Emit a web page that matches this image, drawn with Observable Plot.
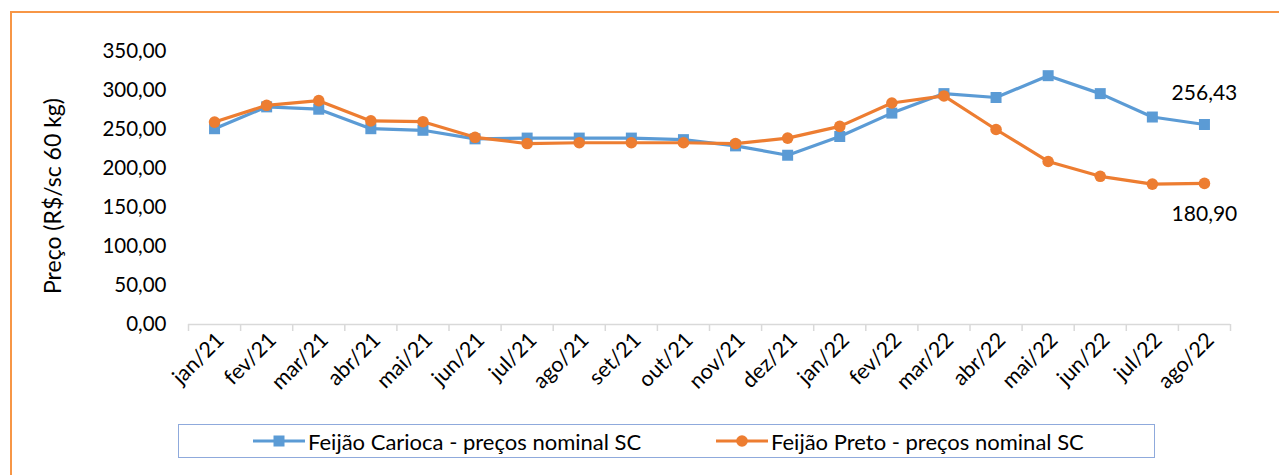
<!DOCTYPE html>
<html><head><meta charset="utf-8">
<script src="https://cdn.jsdelivr.net/npm/d3@7"></script>
<script src="https://cdn.jsdelivr.net/npm/@observablehq/plot@0.6"></script>
<style>
body{margin:0;background:#fff;font-family:Lato,sans-serif;overflow:hidden;}
#frame{position:absolute;left:10px;top:11px;width:1400px;height:600px;border:2px solid #F79646;box-sizing:border-box;}
#chart{position:absolute;left:0;top:0;}
#legend{position:absolute;left:178px;top:424px;width:977px;height:34px;border:1px solid #8FAADC;box-sizing:border-box;background:#fff;}
.item{position:absolute;top:0;height:32px;display:flex;align-items:center;font-size:22px;color:#000;white-space:nowrap;}
.item svg{margin-right:3px;}
</style>
</head><body>
<div id="frame"></div>
<div id="chart"></div>
<div id="legend"></div>
<script>
const months = ["jan/21","fev/21","mar/21","abr/21","mai/21","jun/21","jul/21","ago/21","set/21","out/21","nov/21","dez/21","jan/22","fev/22","mar/22","abr/22","mai/22","jun/22","jul/22","ago/22"];
const carioca = [251, 279, 276, 251, 249, 238, 239, 239, 239, 237, 229, 217, 241, 271, 296, 291, 319, 296, 266, 256.43];
const preto = [259.5, 281, 287, 261, 260, 240, 232, 233, 233, 233, 232, 239, 254, 284, 293, 250, 209, 190, 180, 180.90];
const seriesNames = ["Feijão Carioca - preços nominal SC", "Feijão Preto - preços nominal SC"];
const yTicks = [0, 50, 100, 150, 200, 250, 300, 350];
const yLabel = "Preço (R$/sc 60 kg)";

const blue = "#5B9BD5", orange = "#ED7D31";
const fmt = v => d3.format(".2f")(v).replace(".", ",");
const dataC = months.map((m, i) => ({i, v: carioca[i]}));
const dataP = months.map((m, i) => ({i, v: preto[i]}));
const idx = d3.range(months.length);
const bounds = d3.range(months.length + 1).map(k => k - 0.5);

const chart = Plot.plot({
  width: 1279, height: 400,
  marginLeft: 188, marginRight: 49, marginTop: 51, marginBottom: 76,
  style: {fontFamily: "Lato, sans-serif", fontSize: "20px", color: "#000", background: "transparent"},
  x: {type: "linear", domain: [-0.5, months.length - 0.5]},
  y: {domain: [0, 350]},
  marks: [
    Plot.ruleY([0], {stroke: "#d9d9d9", strokeWidth: 1.5}),
    Plot.axisX(bounds, {tickSize: 7, tickFormat: () => "", stroke: "#d9d9d9", strokeWidth: 1.5, label: null}),
    Plot.axisX(idx, {tickSize: 0, tickPadding: 12, tickRotate: -45, tickFormat: i => months[i], fontSize: 21.5, dx: 6, fill: "#000", label: null}),
    Plot.axisY(yTicks, {tickSize: 0, tickPadding: 22, tickFormat: fmt, label: null, fontSize: 20.5, fill: "#000"}),
    Plot.text([yLabel], {frameAnchor: "left", rotate: -90, textAnchor: "middle", dx: -135, dy: 8, fontSize: 23, fill: "#000"}),
    Plot.line(dataC, {x: "i", y: "v", stroke: blue, strokeWidth: 3.2}),
    Plot.dot(dataC, {x: "i", y: "v", symbol: "square", r: 6.2, fill: blue}),
    Plot.line(dataP, {x: "i", y: "v", stroke: orange, strokeWidth: 3.2}),
    Plot.dot(dataP, {x: "i", y: "v", symbol: "circle", r: 5.8, fill: orange}),
    Plot.text([dataC[dataC.length - 1]], {x: "i", y: "v", text: d => fmt(d.v), dy: -31, fontSize: 21, fill: "#000"}),
    Plot.text([dataP[dataP.length - 1]], {x: "i", y: "v", text: d => fmt(d.v), dy: 31, fontSize: 21, fill: "#000"})
  ]
});
document.getElementById("chart").appendChild(chart);

const legend = document.getElementById("legend");
const items = [{name: seriesNames[0], color: blue, sym: "square", left: 74}, {name: seriesNames[1], color: orange, sym: "circle", left: 537}];
for (const it of items) {
  const div = document.createElement("div");
  div.className = "item";
  div.style.left = it.left + "px";
  const marker = it.sym === "square"
    ? `<rect x="20.5" y="5.5" width="11" height="11" fill="${it.color}"/>`
    : `<circle cx="26" cy="11" r="5.8" fill="${it.color}"/>`;
  div.innerHTML = `<svg width="52" height="22"><line x1="0" x2="52" y1="11" y2="11" stroke="${it.color}" stroke-width="3.2"/>${marker}</svg><span>${it.name}</span>`;
  legend.appendChild(div);
}
</script>
</body></html>
